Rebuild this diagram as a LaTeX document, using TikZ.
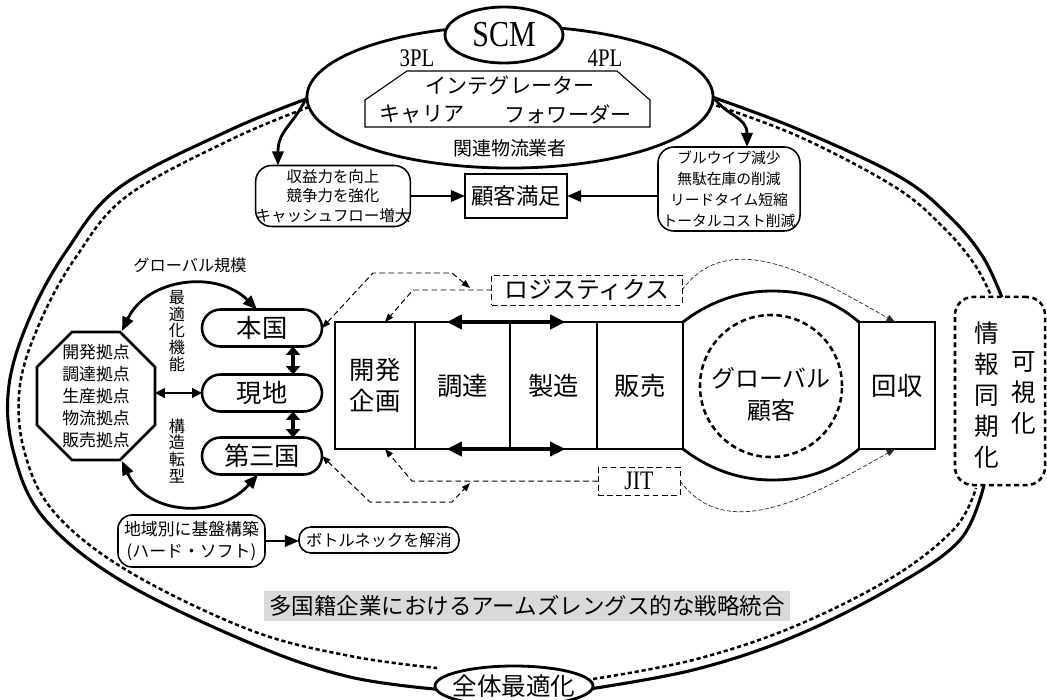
\documentclass[tikz,border=0pt]{standalone}
\usepackage{fontspec}
\setmainfont{Noto Sans CJK JP}
\newfontfamily\latc[FakeStretch=0.82]{Liberation Serif}
\usetikzlibrary{arrows.meta,shapes.geometric,shapes.misc,calc}
\newcommand\setfs[2]{\fontsize{#1}{#2}\selectfont}
\begin{document}
\begin{tikzpicture}[x=0.025cm,y=-0.025cm,
  every node/.style={inner sep=0pt, outer sep=0pt},
  pbox/.style={draw, line width=1.8pt, fill=white, minimum height=3.175cm, align=center, font=\setfs{18}{22.5}},
  arr/.style={line width=2pt, -{Triangle[length=10pt,width=8pt]}},
  darr/.style={line width=2pt, {Triangle[length=10pt,width=8pt]}-{Triangle[length=10pt,width=8pt]}},
  sdarr/.style={line width=1.5pt, {Triangle[length=7pt,width=7pt]}-{Triangle[length=7pt,width=7pt]}},
  vdarr/.style={line width=3.2pt, {Triangle[length=6pt,width=10pt]}-{Triangle[length=6pt,width=10pt]}},
  hdarr/.style={line width=3.2pt, {Triangle[length=11pt,width=10pt]}-{Triangle[length=11pt,width=10pt]}},
  dashl/.style={line width=0.7pt, dash pattern=on 4pt off 2.5pt},
  fine/.style={line width=0.5pt, black!85, dash pattern=on 3pt off 1.5pt},
  dtip/.style={-{Triangle[length=6pt,width=4.5pt]}},
  ddtip/.style={{Triangle[length=6pt,width=4.5pt]}-{Triangle[length=6pt,width=4.5pt]}},
  outerline/.style={line width=2.2pt},
  dotline/.style={line width=1.8pt, dash pattern=on 3pt off 2pt},
  pill/.style={rounded rectangle, draw, line width=1.8pt, fill=white, minimum width=3cm, minimum height=0.925cm, font=\setfs{18}{18}},
  vtext/.style={align=center},
]
\useasboundingbox (0,0) rectangle (1047,699);

% outer frame (solid + dotted)
\draw[outerline] plot[smooth, tension=0.6] coordinates {(309,98) (230,130) (120,187) (67,250) (30,317) (9,385) (13,450) (43,517) (120,580) (250,643) (350,677) (445,690)};
\draw[dotline] plot[smooth, tension=0.6] coordinates {(309,107) (232,139) (127,196) (76,257) (41,320) (20,385) (24,450) (54,512) (128,571) (250,630) (350,656) (437,668)};
\draw[outerline] plot[smooth, tension=0.6] coordinates {(583,690) (693,670) (793,637) (893,587) (960,540) (984,485)};
\draw[dotline] plot[smooth, tension=0.6] coordinates {(593,679) (693,660) (793,627) (893,577) (955,528) (976,488)};
\draw[outerline] plot[smooth, tension=0.6] coordinates {(1003,300) (983,257) (950,217) (900,177) (800,130) (712,97)};
\draw[dotline] plot[smooth, tension=0.6] coordinates {(993,300) (975,265) (943,227) (895,187) (800,137) (712,104)};

% top: SCM
\node[ellipse, draw, line width=2pt, fill=white, minimum width=10.15cm, minimum height=3.55cm] (big) at (510,97) {};
\node[ellipse, draw, line width=2pt, fill=white, minimum width=2.95cm, minimum height=1.4cm, font=\latc\setfs{26}{26}] (scm) at (504,35) {SCM};
\node[font=\latc\setfs{18}{18}] (pl3) at (417,58) {3PL};
\node[font=\latc\setfs{18}{18}] (pl4) at (605,58) {4PL};
\draw[line width=0.8pt] (407,71) -- (617,71) -- (650,100) -- (650,127) -- (365,127) -- (365,100) -- cycle;
\node[font=\setfs{15}{15}] (integ) at (510,85) {インテグレーター};
\node[font=\setfs{15}{15}] (carrier) at (422,114) {キャリア};
\node[font=\setfs{15}{15}] (forw) at (568,114) {フォワーダー};
\node[font=\setfs{13.5}{13.5}] (kanren) at (510,148) {関連物流業者};

% effects
\node[draw, line width=1.1pt, rounded corners=0.4cm, minimum width=3.75cm, minimum height=1.525cm, align=center, font=\setfs{11}{14}] (gainL) at (333,196) {収益力を向上\\競争力を強化\\キャッシュフロー増大};
\node[draw, line width=1.1pt, rounded corners=0.4cm, minimum width=3.55cm, minimum height=2.1cm, align=center, font=\setfs{10.5}{15}] (gainR) at (729,189) {ブルウイプ減少\\無駄在庫の削減\\リードタイム短縮\\トータルコスト削減};
\node[draw, line width=1.5pt, minimum width=2.55cm, minimum height=1.1cm, font=\setfs{16}{16}] (cs) at (516,196) {顧客満足};
\draw[arr] (gainL.east) -- (gainL.east -| cs.west);
\draw[arr] (gainR.west |- cs.east) -- (cs.east);
\draw[arr] (big.west) .. controls +(-15,30) and +(0,-35) .. ([xshift=-1.375cm]gainL.north);
\draw[arr] (big.east) .. controls +(15,20) and +(0,-30) .. ([xshift=0.45cm]gainR.north);

% left section
\node[font=\setfs{11.5}{11.5}] (glob) at (190,265) {グローバル規模};
\draw[line width=1.8pt] (72,332) -- (120,332) -- (155,367) -- (155,425) -- (120,460) -- (72,460) -- (37,425) -- (37,367) -- cycle;
\node[align=center, font=\setfs{12}{15.6}, minimum width=2.95cm, minimum height=3.2cm] (oct) at (96,396) {開発拠点\\調達拠点\\生産拠点\\物流拠点\\販売拠点};
\coordinate (octTR) at (122,331);
\coordinate (octBR) at (122,461);
\node[pill] (hq) at (262,328) {本国};
\node[pill] (loc) at (262,393) {現地};
\node[pill] (third) at (262,456) {第三国};
\draw[vdarr] ([xshift=0.775cm]hq.south) -- ([xshift=0.775cm]loc.north);
\draw[vdarr] ([xshift=0.775cm]loc.south) -- ([xshift=0.775cm]third.north);
\draw[sdarr] (oct.east |- loc.west) -- (loc.west);
\draw[darr] (octTR) .. controls +(25,-53) and +(-40,-40) .. ([xshift=-0.125cm]hq.north);
\draw[darr] (octBR) .. controls +(25,55) and +(-40,45) .. ([xshift=-0.1cm]third.south);
\node[vtext, font=\setfs{11.5}{11.8}] (opt) at (177,331) {最\\適\\化\\機\\能};
\node[vtext, font=\setfs{11.5}{12}] (struct) at (177,451) {構\\造\\転\\型};

% process chain
\node[pbox, minimum width=2cm] (kai) at (375,385.5) {開発\\企画};
\node[pbox, minimum width=2.375cm] (cho) at (462.5,385.5) {調達};
\node[pbox, minimum width=2.175cm] (sei) at (553.5,385.5) {製造};
\node[pbox, minimum width=2.15cm] (han) at (640,385.5) {販売};
\node[pbox, minimum width=1.9cm] (kais) at (897,385.5) {回収};
\draw[hdarr] ([xshift=-0.4cm]cho.north) -- ([xshift=0.3cm]sei.north);
\draw[hdarr] ([xshift=-0.4cm]cho.south) -- ([xshift=0.3cm]sei.south);
\draw[line width=2pt] (han.north east) .. controls (705,305) and (735,291) .. (772,291) .. controls (810,291) and (835,302) .. (kais.north west);
\draw[line width=2pt] (han.south east) .. controls (705,466) and (735,480) .. (772,480) .. controls (810,480) and (835,469) .. (kais.south west);
\node[circle, draw, line width=1.8pt, dash pattern=on 4pt off 2.5pt, minimum size=3.55cm] (cust) at (771,386) {};
\node[align=center, font=\setfs{17}{22.7}] (custtext) at (771,394) {グローバル\\顧客};

% logistics / JIT
\node[draw, dashl, minimum width=4.75cm, minimum height=0.75cm, font=\setfs{17}{17}] (logi) at (587,290) {ロジスティクス};
\node[draw, dashl, minimum width=2.05cm, minimum height=0.7cm, font=\latc\setfs{19}{19}] (jit) at (639,481) {JIT};
\coordinate (a1) at (470,288);
\coordinate (c1) at (470,483);
\draw[dashl, ddtip] (hq.east) -- (373,273) -- (452,273) -- (a1);
\draw[dashl, dtip] (logi.west) -- (413,290) -- ([xshift=0.25cm]kai.north);
\draw[dashl, dtip] (jit.west) -- (412,481) -- ([xshift=0.25cm]kai.south);
\draw[dashl, ddtip] (third.east) -- (370,502) -- (452,502) -- (c1);
\draw[fine, dtip] (logi.east) .. controls +(48,-65) and +(-80,-45) .. ([xshift=-0.05cm]kais.north);
\draw[fine, dtip] (jit.east) .. controls +(48,65) and +(-80,45) .. ([xshift=-0.05cm]kais.south);

% info box
\node[draw, rounded corners=0.45cm, line width=1.8pt, dash pattern=on 3.5pt off 2.5pt, fill=white, minimum width=2.25cm, minimum height=4.7cm] (info) at (1000,391) {};
\node[vtext, font=\setfs{17.5}{22}] (info1) at (987,395) {情\\報\\同\\期\\化};
\node[vtext, font=\setfs{17.5}{22}] (info2) at (1024,393) {可\\視\\化};

% bottom
\node[draw, line width=1.1pt, rounded corners=0.35cm, minimum width=3.675cm, minimum height=1.3cm, align=center, font=\setfs{12}{15.5}] (reg) at (191.5,541) {地域別に基盤構築\\(ハード・ソフト)};
\node[draw, line width=1.1pt, rounded corners=0.3cm, minimum width=4cm, minimum height=0.65cm, font=\setfs{11.5}{11.5}] (bot) at (379,540) {ボトルネックを解消};
\draw[arr] (reg.east) -- (reg.east -| bot.west);
\node[fill=black!15, inner xsep=4pt, inner ysep=3pt, font=\setfs{16}{16}] (arm) at (527,606) {多国籍企業におけるアームズレングス的な戦略統合};
\node[ellipse, draw, line width=2pt, fill=white, minimum width=3.95cm, minimum height=1cm] (zen) at (514,686) {};
\node[font=\setfs{17.5}{17.5}] (zentext) at (514,686) {全体最適化};
\end{tikzpicture}
\end{document}
